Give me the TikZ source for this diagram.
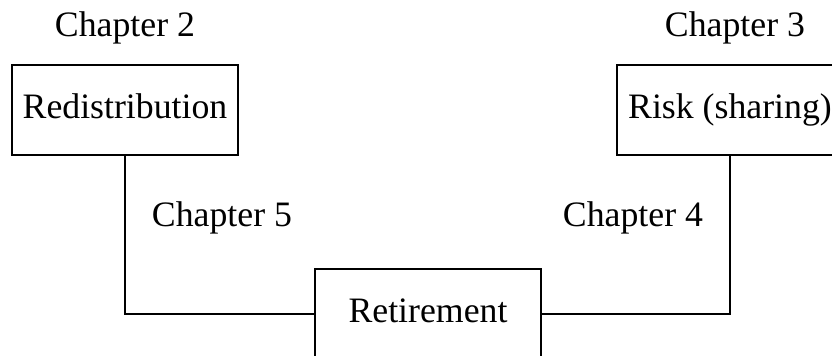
\documentclass[tikz,border=0pt]{standalone}
\usepackage{fontspec}
\setmainfont{Liberation Serif}
\usepackage{tikz}
\usetikzlibrary{positioning}

\tikzset{
  topic/.style={draw, thin, minimum width=74.6pt, minimum height=29.7pt, inner sep=0pt,
    text height=1.55ex, text depth=.3ex},
  chap/.style={inner sep=0pt, text height=1.55ex, text depth=.3ex}
}

\begin{document}
\begin{tikzpicture}[x=0.33pt, y=-0.33pt, font=\fontsize{11.8}{14}\selectfont]
        \useasboundingbox (0,0) rectangle (832,356);
        % Topics
        \node[topic] (redis) at (125,110) {Redistribution};
        \node[topic] (risk) at (730,110) {Risk (sharing)};
        \node[topic] (retire) at (428,314) {Retirement};
        % Chapter labels above the boxes
        \node[chap] (ch2) at (125,28) {Chapter 2};
        \node[chap] (ch3) at (735,28) {Chapter 3};
        % Connecting lines
        \draw[thin] (redis.south) |- (retire.west);
        \draw[thin] (risk.south) |- (retire.east);
        % Chapter labels on the lines
        \node[chap] (ch5) at (222,218) {Chapter 5};
        \node[chap] (ch4) at (633,218) {Chapter 4};
      \end{tikzpicture}
\end{document}
